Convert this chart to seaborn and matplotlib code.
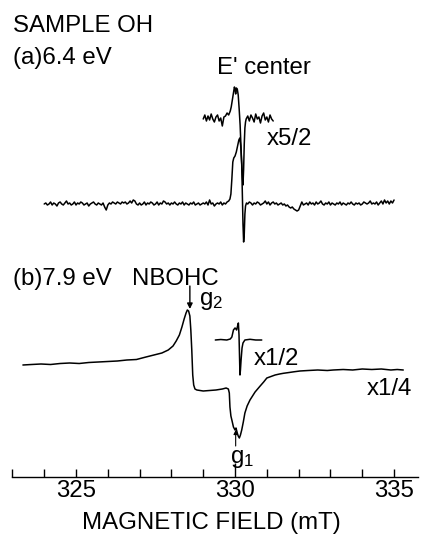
import numpy as np
import matplotlib
matplotlib.use("Agg")
import matplotlib.pyplot as plt
import seaborn as sns

# ---------------- data (signal amplitudes, arbitrary units) -------------
# (a) 6.4 eV, main trace: noisy baseline left, E' line, noisy baseline right
a_step = 0.05
a_left_start = 324.00
a_left = [0, 1, -1, 0, 2, -1, 1, 0, -2, 1,
          2, 0, -1, 1, 3, 0, 1, -1, 0, 2,
          -1, 1, 0, 2, 1, -1, 0, 1, -2, 0,
          1, 2, 0, -1, 1, 0, -1, 1, -3, -6,
          -1, 1, 0, 2, 1, 0, 2, 1, 0, 2,
          1, 2, 0, 1, 3, 1, 4, 3, 0, -1,
          1, -1, 0, 2, -1, 1, 0, 2, 1, -1,
          0, 2, -1, 1, 0, 3, 2, 0, 1, -1,
          1, 0, 2, 0, -1, 1, 0, 2, -1, 1,
          0, -1, 1, 0, 2, -1, 0, 1, -1, 0,
          1, 0, 2, -1, 4, 0, 1, -2, 0, 1,
          0, 2, -1, 1, 0, 2, 3]
a_center_field = [329.84, 329.87, 329.90, 329.93, 329.96, 330.00, 330.04, 330.08, 330.12,
                  330.15, 330.18, 330.21, 330.23, 330.25, 330.27, 330.29, 330.31, 330.33, 330.36]
a_center = [5, 10, 25, 42, 46, 48, 52, 58, 64, 66, 58, 40, 10, -20, -38, -30, -10, -2, 1]
a_right_start = 330.40
a_right = [0, 2, 1, -1, 1, 0, 2, 1, -1, 0,
           1, 3, 0, 2, -1, 1, 2, 0, 1, -1,
           0, 1, -1, 0, -2, -1, -3, -4, -3, -5,
           -6, -7, -6, -2, 2, -1, 0, 1, -1, 2,
           0, 1, -1, 2, 0, 1, 3, 0, -1, 1,
           0, 2, -1, 1, 0, -1, 1, 0, 2, -1,
           1, 0, -1, 1, 0, 2, 0, -1, 1, 0,
           1, -1, 0, 2, 1, 0, 1, 3, 0, 1,
           0, 2, -1, 1, 3, 0, 4, 1, 3, 0,
           3, 1, 4]

# (a) x5/2 magnified trace
a5_left_start = 329.00
a5_left = [0, 4, -2, 3, -1, 5, 0, -3, 2, 4, -2, 1, -7, 2, 3, 6]
a5_center_field = [329.80, 329.85, 329.88, 329.92, 329.95, 329.98, 330.00, 330.02, 330.04, 330.07,
                   330.10, 330.13, 330.16, 330.19, 330.22, 330.25, 330.27, 330.29, 330.31, 330.33]
a5_center = [4, 8, 12, 20, 26, 32, 30, 25, 31, 30, 24, 10, -6, -30, -52, -66, -50, -25, -9, -3]
a5_right_start = 330.35
a5_right = [0, 3, -2, 4, 1, -3, 5, 0, 2, -4, 3, 6, -1, 2, -3, 4, 0, -2]

# (b) 7.9 eV, NBOHC trace (x1/4)
b_field = [323.33, 323.6, 323.9, 324.2, 324.5, 324.8, 325.1, 325.4, 325.7, 326.0,
           326.3, 326.6, 326.9, 327.2, 327.45, 327.7, 327.9, 328.05, 328.15, 328.25,
           328.33, 328.40, 328.46, 328.50, 328.54, 328.58, 328.61, 328.64, 328.67, 328.70,
           328.74, 328.8, 329.0, 329.2, 329.4, 329.6, 329.72, 329.79, 329.82, 329.84,
           329.87, 329.90, 329.95, 330.00, 330.03, 330.07, 330.10, 330.135, 330.17, 330.21,
           330.26, 330.31, 330.38, 330.47, 330.55, 330.63, 330.71, 330.79, 330.9, 331.0,
           331.13, 331.26, 331.4, 331.52, 331.7, 331.85, 332.04, 332.3, 332.6, 332.9,
           333.09, 333.4, 333.7, 334.0, 334.3, 334.6, 334.9, 335.1, 335.29]
b_signal = [5, 5.5, 6, 5.5, 6.5, 7, 6.5, 7.5, 8, 8.5,
            9, 10, 10.5, 13, 15, 17, 20, 24, 29, 35,
            43, 51, 57, 60, 59, 54, 40, 20, -5, -15,
            -19, -20, -21, -20.5, -20, -19, -18, -19, -23, -37,
            -46, -50, -57, -60, -58, -63, -66, -68, -65, -60,
            -52, -43, -36, -30, -26, -22, -19, -16, -12, -8,
            -6.5, -5, -4, -3.3, -2.5, -1.8, -1, -0.5, 0, -0.5,
            0, 0.5, 0, 1, 0.5, 1, 0, 0.5, 0]

# (b) x1/2 trace
b2_field = [329.38, 329.55, 329.74, 329.85, 329.90, 329.95, 330.00, 330.03, 330.05, 330.08,
            330.105, 330.125, 330.14, 330.155, 330.17, 330.19, 330.22, 330.25, 330.31, 330.47,
            330.65, 330.84]
b2_signal = [0, 0.5, 0, 1, 3, 10, 12, 11, 10, 14,
             17, 5, -15, -35, -30, -20, -8, -3, 0, 0.7,
             0, 0]

major_ticks = [325, 330, 335]
major_labels = ["325", "330", "335"]
minor_ticks = [323, 324, 326, 327, 328, 329, 331, 332, 333, 334]

# ---------------- layout constants ----------------
W, H = 423, 535
OFF_A, OFF_A5, OFF_B, OFF_B2 = 273, 358, 107, 137


def grid(start, n):
    return np.round(start + a_step * np.arange(n), 3)


a_x = np.concatenate([grid(a_left_start, len(a_left)), a_center_field,
                      grid(a_right_start, len(a_right))])
a_y = np.concatenate([a_left, a_center, a_right]) + OFF_A
a5_x = np.concatenate([grid(a5_left_start, len(a5_left)), a5_center_field,
                       grid(a5_right_start, len(a5_right))])
a5_y = np.concatenate([a5_left, a5_center, a5_right]) + OFF_A5
b_x = np.array(b_field)
b_y = np.array(b_signal) + OFF_B
b2_x = np.array(b2_field)
b2_y = np.array(b2_signal) + OFF_B2

sns.set_theme(style="white")
plt.rcParams["font.family"] = ["Liberation Sans", "DejaVu Sans"]
plt.rcParams["mathtext.fontset"] = "custom"
plt.rcParams["mathtext.rm"] = "Liberation Sans"
plt.rcParams["mathtext.default"] = "regular"
plt.rcParams["text.color"] = "black"
plt.rcParams["axes.labelcolor"] = "black"
plt.rcParams["xtick.color"] = "black"
plt.rcParams["xtick.labelcolor"] = "black"
FS = 17.3

fig = plt.figure(figsize=(W / 100, H / 100), dpi=100)
ax = fig.add_axes([0, 58 / H, 1, 477 / H])
ax.set_facecolor("white")

for xx, yy in [(a_x, a_y), (a5_x, a5_y), (b_x, b_y), (b2_x, b2_y)]:
    sns.lineplot(x=xx, y=yy, sort=False, estimator=None, color="black", lw=1.1, ax=ax)

ax.set_xlim(322.61, 335.91)
ax.set_ylim(0, 477)
for s in ["left", "right", "top"]:
    ax.spines[s].set_visible(False)
ax.spines["bottom"].set_bounds(323, 335.75)
ax.spines["bottom"].set_linewidth(1.0)
ax.spines["bottom"].set_color("black")
ax.set_yticks([])
ax.set_xticks(major_ticks, major_labels)
ax.set_xticks(minor_ticks, minor=True)
ax.tick_params(axis="x", which="both", direction="in", length=5.8, width=1.0,
               color="black", labelcolor="black", labelsize=FS, pad=2, bottom=True)
ax.set_xlabel("MAGNETIC FIELD (mT)", fontsize=FS, labelpad=7.5, color="black")
for t in ax.xaxis.get_major_ticks():
    if abs(t.get_loc() - 330) < 1e-6:
        t.tick1line.set_markersize(10)


def ftext(x, y, s, **kw):
    fig.text(x / W, 1 - y / H, s, fontsize=FS, va="baseline", ha="left", color="black", **kw)


ftext(12.7, 32, "SAMPLE OH")
ftext(12.7, 64, "(a)6.4 eV")
ftext(216.7, 74, "E' center")
ftext(266.7, 145, "x5/2")
ftext(13.3, 285, "(b)7.9 eV")
ftext(131.7, 285, "NBOHC")
ftext(199.3, 305, "g$_2$")
ftext(253.3, 365, "x1/2")
ftext(366.7, 395, "x1/4")
ftext(230, 463, "g$_1$")

# arrows marking g2 and g1
ax.annotate("", xy=(328.58, 477 - 309), xytext=(328.58, 477 - 286),
            arrowprops=dict(arrowstyle="-|>", lw=1.0, color="black", mutation_scale=8,
                            shrinkA=0, shrinkB=0))
ax.annotate("", xy=(330.02, 477 - 430), xytext=(330.02, 477 - 446),
            arrowprops=dict(arrowstyle="-|>", lw=0.8, color="black", mutation_scale=6,
                            shrinkA=0, shrinkB=0))

fig.savefig("out.png", dpi=100, facecolor="white")
